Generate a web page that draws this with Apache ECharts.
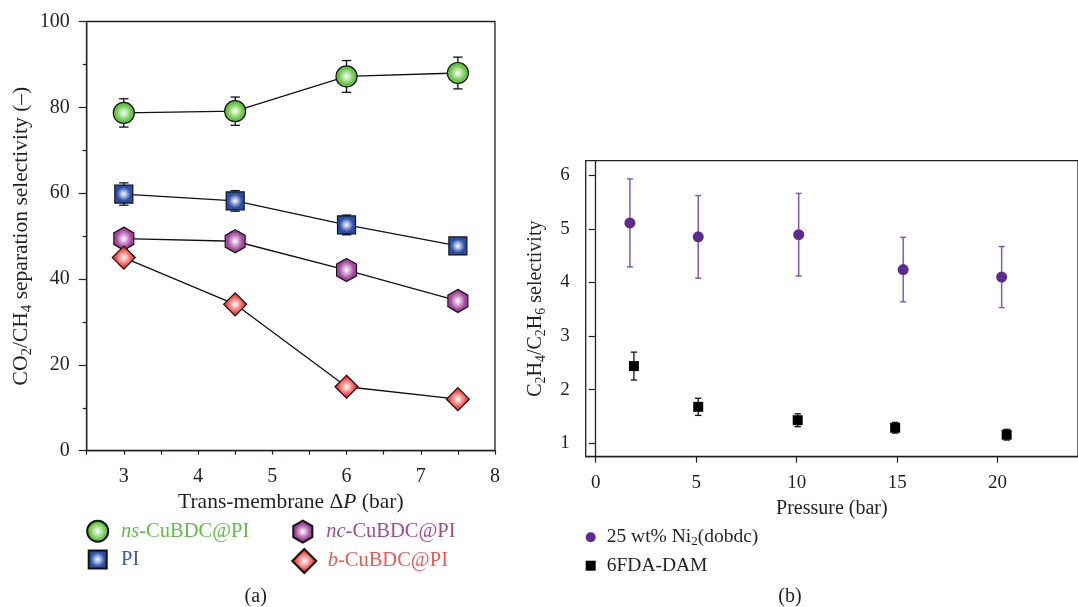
<!DOCTYPE html>
<html>
<head>
<meta charset="utf-8">
<script src="https://cdn.jsdelivr.net/npm/echarts@6/dist/echarts.min.js"></script>
<style>html,body{margin:0;padding:0;background:#fff;}#c{width:1078px;height:607px;}</style>
</head>
<body>
<div id="c"></div>
<script>
// ---------- Panel (a) data ----------
const pressureA = [3, 4.5, 6, 7.5];
const nsVals = [78.7, 79.1, 87.2, 88.0];
const nsErr  = [3.3, 3.3, 3.7, 3.7];
const piVals = [59.8, 58.2, 52.6, 47.7];
const piErr  = [2.6, 2.4, 2.3, 1.0];
const ncVals = [49.4, 48.8, 42.1, 34.9];
const ncErr  = [2.0, 2.1, 1.0, 1.0];
const bVals  = [45.0, 34.1, 14.9, 12.0];
const bErr   = [1.0, 1.0, 1.0, 1.0];
const seriesNamesA = ['ns-CuBDC@PI', 'PI', 'nc-CuBDC@PI', 'b-CuBDC@PI'];

// ---------- Panel (b) data ----------
const niX    = [1.7, 5.1, 10.1, 15.3, 20.2];
const niVals = [5.11, 4.85, 4.89, 4.24, 4.10];
const niErr  = [0.82, 0.77, 0.77, 0.60, 0.57];
const damX    = [1.9, 5.1, 10.05, 14.9, 20.45];
const damVals = [2.44, 1.68, 1.43, 1.29, 1.16];
const damErr  = [0.26, 0.16, 0.12, 0.10, 0.10];
const seriesNamesB = ['25 wt% Ni2(dobdc)', '6FDA-DAM'];

// tick labels
const xTicksA = [3, 4, 5, 6, 7, 8];
const yTicksB = [1, 2, 3, 4, 5, 6];
const xTicksB = [0, 5, 10, 15, 20];

const FONT = '"Liberation Serif", "DejaVu Serif", serif';
const INK = '#231f20';
const HEX = 'path://M0,-1 L0.866,-0.5 L0.866,0.5 L0,1 L-0.866,0.5 L-0.866,-0.5 Z';

function grad(c) {
  return {type: 'radial', x: 0.5, y: 0.5, r: 0.5,
    colorStops: [{offset: 0, color: '#ffffff'}, {offset: 0.72, color: c}, {offset: 1, color: c}]};
}
function pairs(xs, ys) { return xs.map((x, i) => [x, ys[i]]); }
function triples(xs, ys, es) { return xs.map((x, i) => [x, ys[i], es[i]]); }

function errRender(capHalf, color, lw) {
  return function (params, api) {
    const x = api.value(0), y = api.value(1), e = api.value(2);
    const p1 = api.coord([x, y + e]);
    const p2 = api.coord([x, y - e]);
    const st = {stroke: color, lineWidth: lw};
    return {type: 'group', children: [
      {type: 'line', shape: {x1: p1[0], y1: p1[1], x2: p2[0], y2: p2[1]}, style: st},
      {type: 'line', shape: {x1: p1[0] - capHalf, y1: p1[1], x2: p1[0] + capHalf, y2: p1[1]}, style: st},
      {type: 'line', shape: {x1: p2[0] - capHalf, y1: p2[1], x2: p2[0] + capHalf, y2: p2[1]}, style: st}
    ]};
  };
}
function errSeries(xs, ys, es, xi, cap, color, lw) {
  return {type: 'custom', coordinateSystem: 'cartesian2d', xAxisIndex: xi, yAxisIndex: xi,
    renderItem: errRender(cap, color, lw), data: triples(xs, ys, es), encode: {x: 0, y: 1},
    z: 1, silent: true, clip: false};
}
function lineSeries(name, vals, symbol, size, color) {
  return {type: 'line', name: name, xAxisIndex: 0, yAxisIndex: 0, data: pairs(pressureA, vals),
    symbol: symbol, symbolSize: size, showAllSymbol: true, z: 3,
    itemStyle: {color: grad(color), borderColor: '#111', borderWidth: 1.2, opacity: 1},
    lineStyle: {color: '#111', width: 1.3}, emphasis: {disabled: true}, silent: true};
}

const subRich = {
  n: {fontFamily: FONT, fontSize: 21.5, color: INK, lineHeight: 26},
  s: {fontFamily: FONT, fontSize: 15, color: INK, lineHeight: 14, verticalAlign: 'bottom'},
  i: {fontFamily: FONT, fontSize: 21.5, color: INK, fontStyle: 'italic', lineHeight: 26}
};

// legend for panel (a): icon centre cx/cy, text starts at tx
function legendA(name, icon, cx, cy, size, tx, color, italicPart, rest) {
  const left = cx - size / 2;
  const pad = tx - (left + size + 5);
  const h = Math.max(size, 22);
  return {left: left, top: cy - h / 2, padding: 0, itemWidth: size, itemHeight: size, selectedMode: false,
    data: [{name: name, icon: icon}],
    formatter: () => italicPart ? '{i|' + italicPart + '}{n|' + rest + '}' : '{n|' + rest + '}',
    textStyle: {fontFamily: FONT, fontSize: 20.5, color: color, rich: {
      i: {fontFamily: FONT, fontSize: 20.5, color: color, fontStyle: 'italic', lineHeight: 22, padding: [0, 0, 0, pad]},
      n: {fontFamily: FONT, fontSize: 20.5, color: color, lineHeight: 22, padding: [0, 0, 0, italicPart ? 0 : pad]}}}};
}

const option = {
  animation: false,
  backgroundColor: '#ffffff',
  grid: [
    {left: 86.7, top: 21.5, width: 408.3, height: 429.2, show: true, borderColor: INK, borderWidth: 1.3, containLabel: false},
    {left: 585.7, top: 160.7, width: 497.8, height: 296, show: true, borderColor: INK, borderWidth: 1.3, containLabel: false}
  ],
  xAxis: [
    {type: 'value', gridIndex: 0, min: 2.5, max: 8, interval: 0.5,
      axisLine: {lineStyle: {color: INK, width: 1.3}},
      axisTick: {length: 4, lineStyle: {color: INK, width: 1.2}},
      axisLabel: {margin: 16, fontFamily: FONT, fontSize: 20, color: INK,
        formatter: v => xTicksA.indexOf(v) >= 0 ? String(v) : ''},
      splitLine: {show: false},
      name: '{n|Trans-membrane Δ}{i|P}{n| (bar)}', nameLocation: 'middle', nameGap: 38,
      nameTextStyle: {rich: subRich}},
    {type: 'value', gridIndex: 1, min: -0.5, max: 24,
      axisLine: {lineStyle: {color: INK, width: 1.3}},
      axisTick: {length: 6, customValues: xTicksB, lineStyle: {color: INK, width: 1.2}},
      axisLabel: {margin: 17, fontFamily: FONT, fontSize: 19, color: INK, customValues: xTicksB},
      splitLine: {show: false},
      name: '{n|Pressure (bar)}', nameLocation: 'middle', nameGap: 40,
      nameTextStyle: {rich: {n: {fontFamily: FONT, fontSize: 20, color: INK, lineHeight: 24}}}}
  ],
  yAxis: [
    {type: 'value', gridIndex: 0, min: 0, max: 100, interval: 20,
      axisLine: {show: true, lineStyle: {color: INK, width: 1.3}},
      axisTick: {show: true, length: 8, lineStyle: {color: INK, width: 1.2}},
      minorTick: {show: true, splitNumber: 2, length: 4, lineStyle: {color: INK, width: 1.2}},
      axisLabel: {margin: 17, fontFamily: FONT, fontSize: 20, color: INK},
      splitLine: {show: false},
      name: '{n|CO}{s|2}{n|/CH}{s|4}{n| separation selectivity (–)}', nameLocation: 'middle', nameGap: 52,
      nameTextStyle: {rich: subRich}},
    {type: 'value', gridIndex: 1, min: 0.75, max: 6.27,
      axisLine: {show: true, lineStyle: {color: INK, width: 1.3}},
      axisTick: {show: true, length: 7, customValues: yTicksB, lineStyle: {color: INK, width: 1.2}},
      axisLabel: {margin: 16, fontFamily: FONT, fontSize: 19, color: INK, customValues: yTicksB},
      splitLine: {show: false},
      name: '{n|C}{s|2}{n|H}{s|4}{n|/C}{s|2}{n|H}{s|6}{n| selectivity}', nameLocation: 'middle', nameGap: 37,
      nameTextStyle: {rich: {
        n: {fontFamily: FONT, fontSize: 20, color: INK, lineHeight: 25},
        s: {fontFamily: FONT, fontSize: 14, color: INK, lineHeight: 13, verticalAlign: 'bottom'}}}}
  ],
  legend: [
    legendA(seriesNamesA[0], 'circle', 96.7, 530.7, 21, 120, '#62bd45', 'ns', '-CuBDC@PI'),
    legendA(seriesNamesA[1], 'rect', 96.7, 560, 18, 120, '#3a5ab5', '', 'PI'),
    legendA(seriesNamesA[2], HEX, 303.3, 530.7, 22, 326.7, '#a34a9d', 'nc', '-CuBDC@PI'),
    legendA(seriesNamesA[3], 'diamond', 303.3, 560, 24, 326.7, '#f05757', 'b', '-CuBDC@PI'),
    {left: 585.7, top: 527.3, padding: 0, itemWidth: 10, itemHeight: 10, selectedMode: false,
      data: [{name: seriesNamesB[0], icon: 'circle'}],
      formatter: () => '{n|25 wt% Ni}{s|2}{n|(dobdc)}',
      textStyle: {fontFamily: FONT, fontSize: 19.5, color: INK, padding: [0, 0, 0, 6], rich: {
        n: {fontFamily: FONT, fontSize: 19.5, color: INK, lineHeight: 22},
        s: {fontFamily: FONT, fontSize: 13, color: INK, lineHeight: 13, verticalAlign: 'bottom'}}}},
    {left: 585.7, top: 555.7, padding: 0, itemWidth: 10, itemHeight: 10, selectedMode: false,
      data: [{name: seriesNamesB[1], icon: 'rect'}],
      formatter: () => '{n|6FDA-DAM}',
      textStyle: {fontFamily: FONT, fontSize: 19.5, color: INK, padding: [0, 0, 0, 6], rich: {
        n: {fontFamily: FONT, fontSize: 19.5, color: INK, lineHeight: 22}}}}
  ],
  graphic: [
    {type: 'text', x: 255.7, y: 596.7, style: {text: '(a)', font: '20px ' + FONT, fill: INK, align: 'center', verticalAlign: 'middle'}},
    {type: 'text', x: 790, y: 596.7, style: {text: '(b)', font: '20px ' + FONT, fill: INK, align: 'center', verticalAlign: 'middle'}}
  ],
  series: [
    errSeries(pressureA, nsVals, nsErr, 0, 4.7, '#111', 1.3),
    errSeries(pressureA, piVals, piErr, 0, 4.7, '#111', 1.3),
    errSeries(pressureA, ncVals, ncErr, 0, 4.7, '#111', 1.3),
    errSeries(pressureA, bVals, bErr, 0, 4.7, '#111', 1.3),
    lineSeries(seriesNamesA[0], nsVals, 'circle', 21, '#66c443'),
    lineSeries(seriesNamesA[1], piVals, 'rect', 18, '#2a4ea8'),
    lineSeries(seriesNamesA[2], ncVals, HEX, [20, 23], '#a2449c'),
    lineSeries(seriesNamesA[3], bVals, 'diamond', 23, '#f23c3c'),
    errSeries(niX, niVals, niErr, 1, 3, '#8559b0', 1.5),
    errSeries(damX, damVals, damErr, 1, 3.2, '#111', 1.3),
    {type: 'scatter', name: seriesNamesB[0], xAxisIndex: 1, yAxisIndex: 1, data: pairs(niX, niVals),
      symbol: 'circle', symbolSize: 11, itemStyle: {color: '#5f2a8e', opacity: 1}, z: 3, silent: true, emphasis: {disabled: true}},
    {type: 'scatter', name: seriesNamesB[1], xAxisIndex: 1, yAxisIndex: 1, data: pairs(damX, damVals),
      symbol: 'rect', symbolSize: 10, itemStyle: {color: '#000000', opacity: 1}, z: 3, silent: true, emphasis: {disabled: true}}
  ]
};

const chart = echarts.init(document.getElementById('c'), null, {renderer: 'canvas'});
chart.setOption(option);
</script>
</body>
</html>
